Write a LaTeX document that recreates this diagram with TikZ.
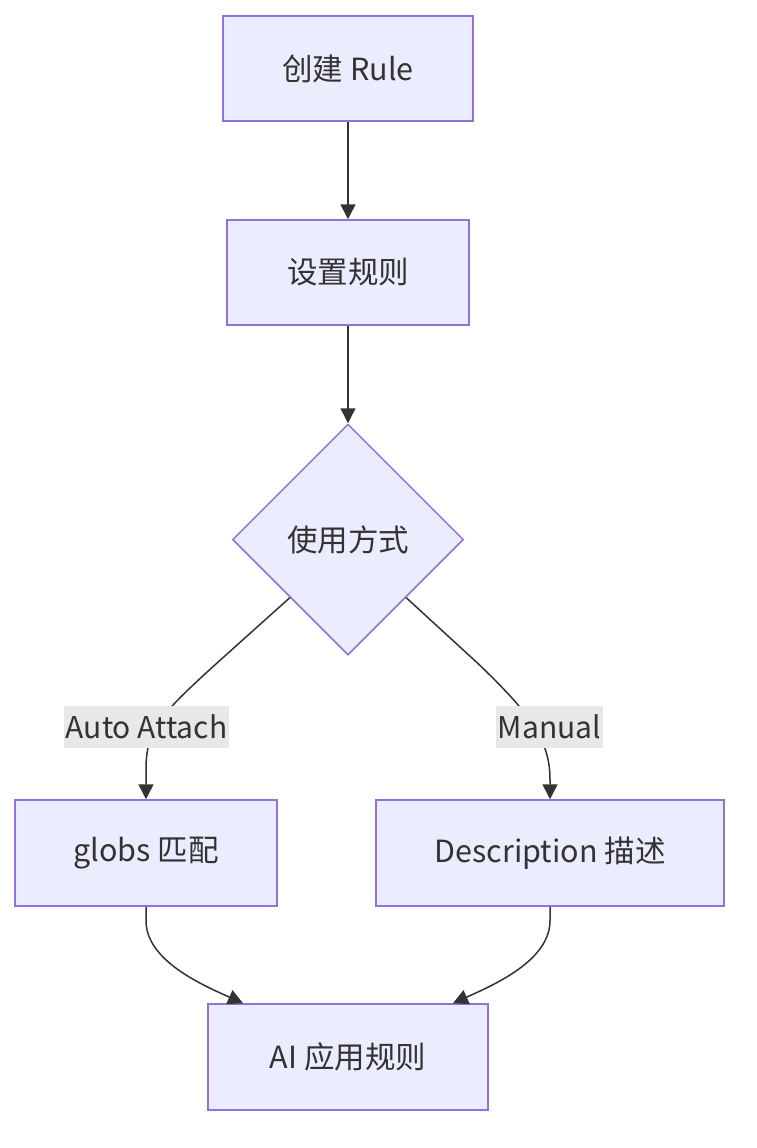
\documentclass[tikz,border=0pt]{standalone}
\usepackage{fontspec}
\setmainfont{Noto Sans CJK SC}
\usetikzlibrary{shapes.geometric,arrows.meta}
\definecolor{nodefill}{HTML}{ECECFF}
\definecolor{nodestroke}{HTML}{9370DB}
\definecolor{edgecol}{HTML}{333333}
\definecolor{labelbg}{HTML}{E8E8E8}
\tikzset{
  box/.style={draw=nodestroke, fill=nodefill, line width=1.5pt, rectangle, inner sep=0pt, text=edgecol, font=\fontsize{30.5}{36}\selectfont},
  decision/.style={draw=nodestroke, fill=nodefill, line width=1.5pt, diamond, aspect=1, inner sep=0pt, minimum width=231pt, minimum height=231pt, text=edgecol, font=\fontsize{30.5}{36}\selectfont},
  edge/.style={draw=edgecol, line width=1.5pt, -{Triangle[length=15pt,width=15pt]}},
  elabel/.style={fill=labelbg, inner xsep=2pt, inner ysep=0pt, minimum height=42pt, text=edgecol, font=\fontsize{30}{36}\selectfont}
}
\begin{document}
\begin{tikzpicture}[x=1pt,y=-1pt]
\useasboundingbox (0,0) rectangle (756,1148);
\node[box, minimum width=250pt, minimum height=105pt] (a) at (348,68.5) {创建 Rule};
\node[box, minimum width=242pt, minimum height=105pt] (b) at (348,272.5) {设置规则};
\node[decision] (c) at (348,539.5) {使用方式};
\node[box, minimum width=262pt, minimum height=106pt] (g) at (146,853) {globs 匹配};
\node[box, minimum width=348pt, minimum height=106pt] (d) at (550,853) {Description 描述};
\node[box, minimum width=280pt, minimum height=106pt] (e) at (348,1057) {AI 应用规则};

\draw[edge] (a.south) -- (b.north);
\draw[edge] (b.south) -- (c.north);
\draw[edge] (c.south west) -- ++(-78,70) .. controls +(-50,46) and +(0,-40) .. ([yshift=30pt]g.north) -- (g.north);
\draw[edge] (c.south east) -- ++(72,66) .. controls +(50,48) and +(0,-40) .. ([yshift=20pt]d.north) -- (d.north);
\draw[edge] (g.south) -- ++(0,14) .. controls +(0,40) and +(-40,-18) .. ([xshift=-105pt]e.north);
\draw[edge] (d.south) -- ++(0,14) .. controls +(0,40) and +(40,-18) .. ([xshift=105pt]e.north);

\node[elabel] (l1) at (146.5,727) {Auto Attach};
\node[elabel] (l2) at (549.5,727) {Manual};
\end{tikzpicture}
\end{document}
